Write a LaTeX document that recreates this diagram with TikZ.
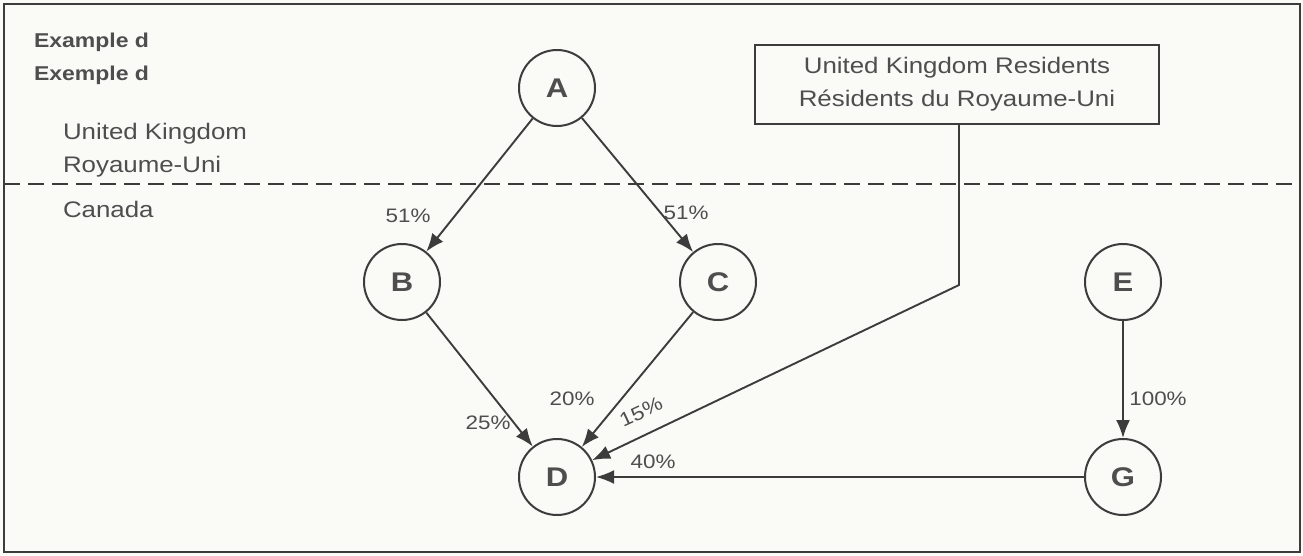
\documentclass[tikz,border=0pt]{standalone}
\usepackage{fontspec}
\setmainfont{Liberation Sans}[FakeStretch=1.15]
\usetikzlibrary{arrows.meta}
\definecolor{ink}{HTML}{3C3C3C}
\definecolor{txt}{HTML}{4E4E4E}
\definecolor{paper}{HTML}{FAFAF7}
\begin{document}
\begin{tikzpicture}[x=1pt,y=-1pt,
  line width=2pt, draw=ink, text=txt,
  ent/.style={circle, draw=ink, line width=2pt, minimum size=76pt, inner sep=0pt,
    font=\fontsize{27}{30}\selectfont\bfseries, text=txt},
  arr/.style={draw=ink, line width=1.9pt, -{Latex[length=18pt,width=14pt]}},
  pct/.style={font=\fontsize{19.5}{22}\selectfont, text=txt, inner sep=0pt},
  lbl/.style={font=\fontsize{22.5}{26}\selectfont, text=txt, anchor=base west, inner sep=0pt},
  hdr/.style={font=\fontsize{20}{24}\selectfont\bfseries, text=txt, anchor=base west, inner sep=0pt}]
\useasboundingbox (0,0) rectangle (1303,555);
\fill[paper] (0,0) rectangle (1303,555);
\draw[ink, line width=1.8pt] (4,4) rectangle (1300,552);
% header texts
\node[hdr] (h1) at (33,47) {Example d};
\node[hdr] (h2) at (33,80) {Exemple d};
\node[lbl] (uk1) at (62,139) {United Kingdom};
\node[lbl] (uk2) at (62,172) {Royaume-Uni};
\node[lbl] (ca) at (62,217) {Canada};
% dashed border
\coordinate (dl) at (4,184);
\coordinate (dr) at (1300,184);
\draw[ink, line width=1.6pt, dash pattern=on 16pt off 8pt] (dl) -- (dr);
% box
\node[draw=ink, line width=2pt, minimum width=404pt, minimum height=79pt,
  align=center, font=\fontsize{22.5}{33}\selectfont, text=txt] (box) at (957,84)
  {United Kingdom Residents\\Résidents du Royaume-Uni};
% entities
\node[ent] (A) at (557,88) {A};
\node[ent] (B) at (402,282) {B};
\node[ent] (C) at (718,282) {C};
\node[ent] (D) at (557,477) {D};
\node[ent] (E) at (1123,282) {E};
\node[ent] (G) at (1123,477) {G};
% connectors
\draw[arr] (A) -- (B);
\draw[arr] (A) -- (C);
\draw[arr] (B) -- (D);
\draw[arr] (C) -- (D);
\coordinate (bend) at (959,285);
\draw[arr] (box.south -| bend) -- (bend) -- (D);
\draw[arr] (G) -- (D);
\draw[arr] (E) -- (G);
% percentages
\node[pct] (p1) at (408,216) {51\%};
\node[pct] (p2) at (686,213) {51\%};
\node[pct] (p3) at (488,423) {25\%};
\node[pct] (p4) at (572,399) {20\%};
\node[pct, rotate=25] (p5) at (641,412) {15\%};
\node[pct] (p6) at (653,462) {40\%};
\node[pct] (p7) at (1158,399) {100\%};
\end{tikzpicture}
\end{document}
